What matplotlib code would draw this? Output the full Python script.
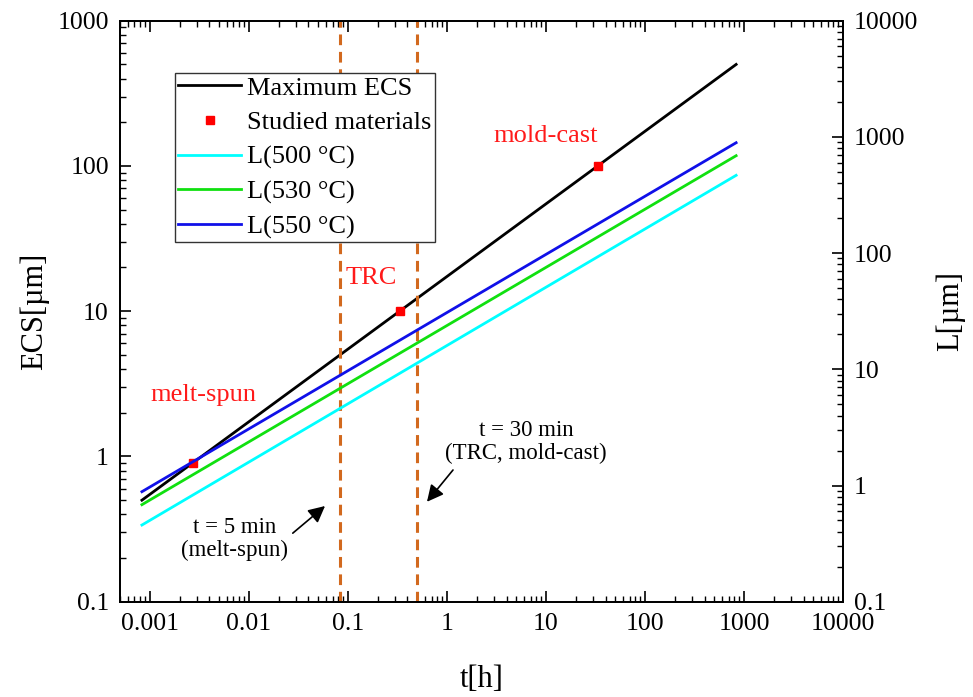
import matplotlib.pyplot as plt

plt.rcParams['font.family'] = ['Liberation Serif', 'DejaVu Serif']

# line end points (t in hours)
t_line = [8.33e-4, 833.3]
ecs_max = [0.5, 500]
L_500 = [0.457, 467]
L_530 = [0.684, 689]
L_550 = [0.885, 891]

# studied materials
mat_names = ['melt-spun', 'TRC', 'mold-cast']
mat_t = [0.0027, 0.333, 33.3]
mat_ecs = [0.9, 10, 100]

# annealing times in hours (5 min and 30 min)
t_marks = [5 / 60, 30 / 60]

fig = plt.figure(figsize=(9.73, 6.97), dpi=100)
ax = fig.add_axes([0.1233, 0.1367, 0.7431, 0.8336])
ax2 = ax.twinx()

ax.set_xscale('log')
ax.set_yscale('log')
ax2.set_yscale('log')
ax.set_xlim(5e-4, 1e4)
ax.set_ylim(0.1, 1000)
ax2.set_ylim(0.1, 10000)

h1, = ax.plot(t_line, ecs_max, color='black', lw=2, label='Maximum ECS')
h2, = ax.plot(mat_t, mat_ecs, ls='none', marker='s', ms=6, color='#ff0000',
              label='Studied materials', zorder=5)
h3, = ax2.plot(t_line, L_500, color='#00ffff', lw=2, label='L(500 °C)')
h4, = ax2.plot(t_line, L_530, color='#10e010', lw=2, label='L(530 °C)')
h5, = ax2.plot(t_line, L_550, color='#1010e8', lw=2, label='L(550 °C)')

for tm in t_marks:
    ax.axvline(tm, color='#d2691e', lw=2.2, ls=(0, (3.5, 2.2)))

xticks = [0.001, 0.01, 0.1, 1, 10, 100, 1000, 10000]
ax.set_xticks(xticks)
ax.set_xticklabels(['0.001', '0.01', '0.1', '1', '10', '100', '1000', '10000'])
ax.set_yticks([0.1, 1, 10, 100, 1000])
ax.set_yticklabels(['0.1', '1', '10', '100', '1000'])
ax2.set_yticks([0.1, 1, 10, 100, 1000, 10000])
ax2.set_yticklabels(['0.1', '1', '10', '100', '1000', '10000'])

ax.tick_params(axis='x', which='both', direction='in', top=True, labelsize=18.5, pad=8)
ax.tick_params(axis='y', which='both', direction='in', right=False, labelsize=18.5, pad=8)
ax.tick_params(which='major', length=8, width=1.2)
ax.tick_params(which='minor', length=4, width=1)
ax2.tick_params(axis='y', which='both', direction='in', labelsize=18.5, pad=8)
ax2.tick_params(which='major', length=8, width=1.2)
ax2.tick_params(which='minor', length=4, width=1)
for a in (ax, ax2):
    for s in a.spines.values():
        s.set_linewidth(1.3)

ax.set_xlabel('t[h]', fontsize=22, labelpad=22)
ax.set_ylabel('ECS[µm]', fontsize=22, labelpad=6)
ax2.set_ylabel('L[µm]', fontsize=22, labelpad=12)

# red material labels
label_pos = [(0.116, 0.356), (0.347, 0.557), (0.589, 0.802)]
for name, (xf, yf) in zip(mat_names, label_pos):
    ax.text(xf, yf, name, transform=ax.transAxes, color='#ff1a1a',
            fontsize=19, ha='center', va='center')

# annotations for the two annealing times
ax.text(0.159, 0.108, 't = 5 min\n(melt-spun)', transform=ax.transAxes,
        ha='center', va='center', fontsize=16.5, linespacing=1.15)
ax.text(0.5615, 0.275, 't = 30 min\n(TRC, mold-cast)', transform=ax.transAxes,
        ha='center', va='center', fontsize=16.5, linespacing=1.15)
arrows = [((0.239, 0.118), (0.2836, 0.1647)),
          ((0.4606, 0.2267), (0.4246, 0.172))]
for tail, head in arrows:
    ax.annotate('', xy=head, xytext=tail,
                xycoords='axes fraction', textcoords='axes fraction',
                arrowprops=dict(arrowstyle='-|>', color='black', lw=1.2,
                                mutation_scale=25, shrinkA=0, shrinkB=0))

leg = ax2.legend(handles=[h1, h2, h3, h4, h5], loc='upper left',
                 bbox_to_anchor=(0.076, 0.91), fontsize=19, frameon=True,
                 fancybox=False, edgecolor='#333333', framealpha=1,
                 handlelength=2.4, handletextpad=0.22, labelspacing=0.42,
                 borderpad=0.12, borderaxespad=0)
leg.get_frame().set_linewidth(1.0)

fig.savefig('out.png', dpi=100)
